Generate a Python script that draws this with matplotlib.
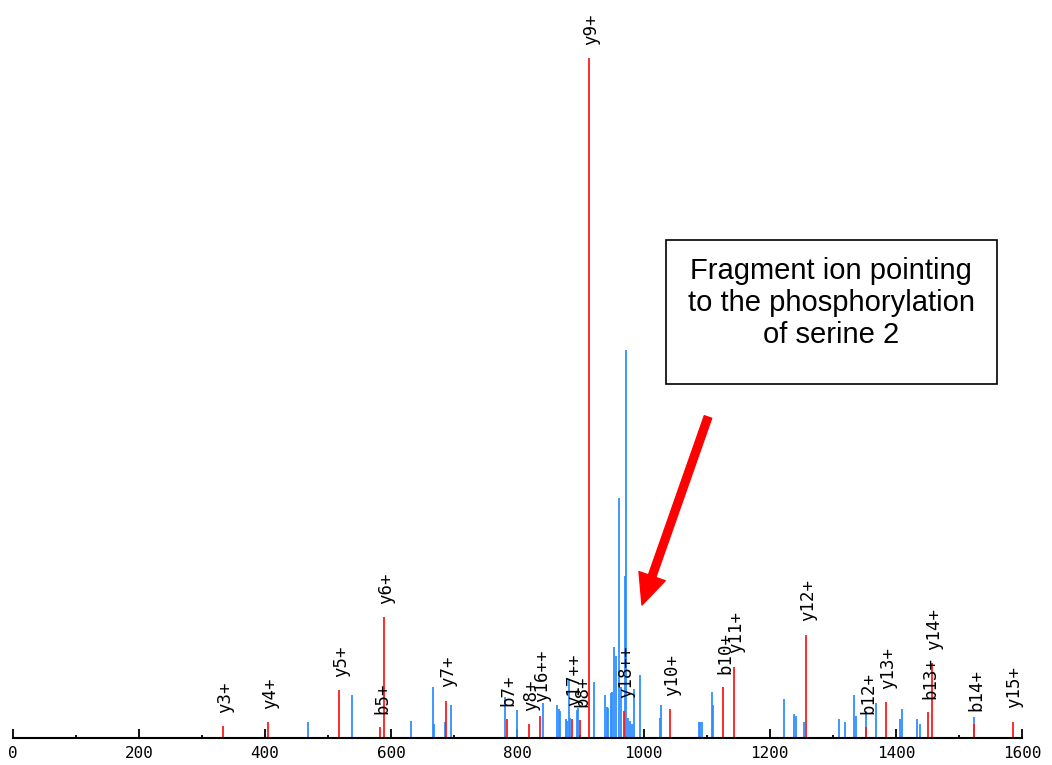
import matplotlib
matplotlib.use("Agg")
import matplotlib.pyplot as plt
from matplotlib.patches import Rectangle

# matched fragment ions (red), m/z and relative intensity (%)
ion_labels = ["y3+", "y4+", "y5+", "b5+", "y6+", "y7+", "b7+", "y8+", "y16++",
              "y17++", "b8+", "y9+", "y18++", "y10+", "b10+", "y11+", "y12+",
              "b12+", "y13+", "b13+", "y14+", "b14+", "y15+"]
ion_mz = [333, 405, 517, 583, 589, 687, 783, 818, 836,
          886, 899.5, 914, 968.8, 1041.7, 1126, 1143, 1257,
          1353, 1385, 1451.6, 1457, 1524, 1585]
ion_int = [1.8, 2.35, 7.0, 1.6, 17.8, 5.5, 2.8, 2.1, 3.3,
           2.8, 2.6, 100, 3.9, 4.3, 7.5, 10.5, 15.2,
           1.6, 5.3, 3.8, 11.0, 2.1, 2.4]

# unmatched peaks (blue)
other_mz = [468.5, 538, 631, 665.6, 668, 684.6, 695, 781, 799, 840,
            863, 866, 868, 877, 879, 881.6, 883, 894, 896, 922,
            939.1, 941.4, 943.4, 947.7, 949.8, 953.0, 955.6, 961.6, 964.5,
            969.9, 972.7, 975.1, 978.3, 981, 985.7, 994.1,
            1026, 1028.5, 1088, 1090, 1092, 1108, 1110, 1223, 1238, 1241,
            1254.5, 1310, 1319, 1334, 1336.6, 1352.7, 1369, 1406, 1409,
            1433, 1439, 1524]
other_int = [2.35, 6.3, 2.5, 7.5, 2.1, 2.3, 4.8, 6.1, 4.1, 5.1,
             4.8, 4.3, 4.0, 2.8, 2.5, 8.5, 3.0, 4.1, 4.4, 8.3,
             6.3, 4.6, 4.4, 6.6, 6.7, 13.4, 12.0, 35.3, 7.5,
             23.8, 57.0, 3.0, 2.5, 2.0, 7.2, 9.3,
             2.9, 4.8, 2.4, 2.3, 2.3, 6.8, 4.8, 5.8, 3.6, 3.3,
             2.3, 2.8, 2.3, 6.3, 3.3, 3.9, 5.1, 2.8, 4.3,
             2.8, 2.1, 3.1]

W, H = 1052, 765
fig = plt.figure(figsize=(W / 100, H / 100), dpi=100)
ax = fig.add_axes([12.7 / W, 27 / H, (1022 - 12.7) / W, 680 / H])

ax.vlines(other_mz, 0, other_int, colors="#2f8fff", linewidth=1.3)
ax.vlines(ion_mz, 0, ion_int, colors="#ff1a1a", linewidth=1.3)

mono = "DejaVu Sans Mono"
for lab, x, y in zip(ion_labels, ion_mz, ion_int):
    ax.annotate(lab, (x, y), xytext=(1.5, 9.5), textcoords="offset points",
                rotation=90, ha="center", va="bottom", fontfamily=mono,
                fontsize=12.5, annotation_clip=False)

ax.set_xlim(0, 1600)
ax.set_ylim(0, 100)
for s in ["left", "top", "right"]:
    ax.spines[s].set_visible(False)
ax.spines["bottom"].set_linewidth(1.5)
ax.set_yticks([])
ax.set_xticks(range(0, 1601, 200))
ax.set_xticks(range(100, 1600, 200), minor=True)
ax.tick_params(axis="x", which="major", direction="in", length=6.5,
               width=1.3, pad=6, labelsize=11.5)
ax.tick_params(axis="x", which="minor", direction="in", length=2.5, width=1.3)
for t in ax.get_xticklabels():
    t.set_fontfamily(mono)

# annotation box and arrow
fig.add_artist(Rectangle((666 / W, (H - 384) / H), (997 - 666) / W, (384 - 240) / H,
                         transform=fig.transFigure, fill=False, ec="black", lw=1.2))
fig.text(831 / W, 1 - 303 / H,
         "Fragment ion pointing\nto the phosphorylation\nof serine 2",
         ha="center", va="center", fontsize=21, family="Liberation Sans",
         linespacing=1.17)
ax.annotate("", xy=(642, H - 605), xytext=(708, H - 417), xycoords="figure pixels",
            textcoords="figure pixels",
            arrowprops=dict(arrowstyle="simple,head_length=1.1,head_width=1.0,tail_width=0.28",
                            color="red", mutation_scale=20, shrinkA=0, shrinkB=0))

plt.savefig("out.png", dpi=100)
